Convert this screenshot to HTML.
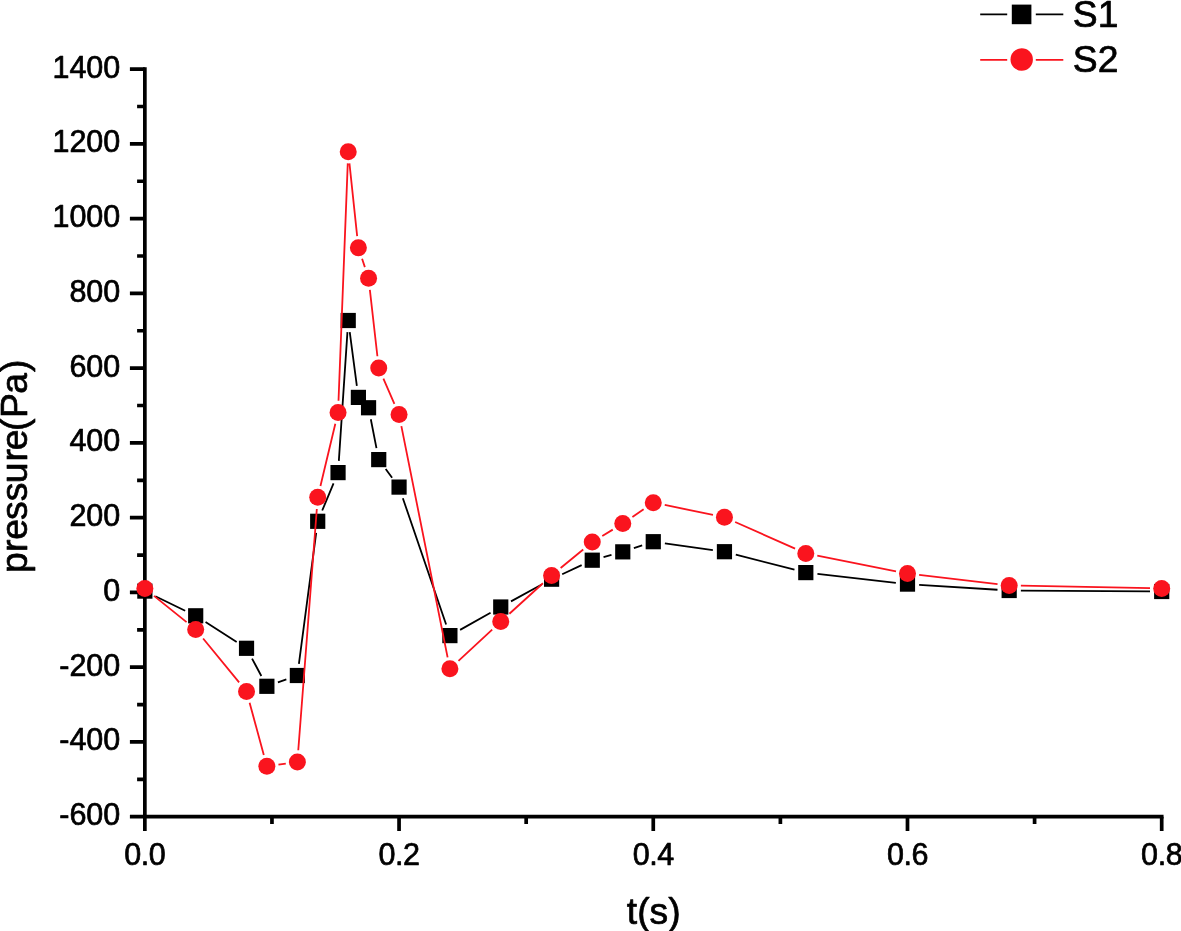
<!DOCTYPE html>
<html><head><meta charset="utf-8"><title>pressure vs t</title>
<style>
html,body{margin:0;padding:0;background:#fff;}
svg{display:block}
text{font-family:"Liberation Sans",sans-serif;fill:#000;stroke:#000;stroke-width:0.7px;stroke-linejoin:round}
.tk{font-size:30.5px}
.ti{font-size:37.3px}
</style></head><body>
<svg width="1181" height="931" viewBox="0 0 1181 931">
<rect width="1181" height="931" fill="#fff"/>
<g stroke="#000" stroke-width="3.7" stroke-linecap="butt" fill="none">
<path d="M144.85 67.25V831.10"/>
<path d="M129.90 816.70H1163.55"/>
<path d="M137.1 779.32H144.85M129.9 741.94H144.85M137.1 704.56H144.85M129.9 667.18H144.85M137.1 629.80H144.85M129.9 592.42H144.85M137.1 555.04H144.85M129.9 517.66H144.85M137.1 480.28H144.85M129.9 442.90H144.85M137.1 405.52H144.85M129.9 368.14H144.85M137.1 330.76H144.85M129.9 293.38H144.85M137.1 256.00H144.85M129.9 218.62H144.85M137.1 181.24H144.85M129.9 143.86H144.85M137.1 106.48H144.85M129.9 69.10H144.85M271.96 816.70V823.9M399.06 816.70V831.1M526.17 816.70V823.9M653.27 816.70V831.1M780.38 816.70V823.9M907.49 816.70V831.1M1034.59 816.70V823.9M1161.70 816.70V831.1"/>
</g>
<text class="tk" x="120.3" y="825.20" text-anchor="end">-600</text>
<text class="tk" x="120.3" y="750.44" text-anchor="end">-400</text>
<text class="tk" x="120.3" y="675.68" text-anchor="end">-200</text>
<text class="tk" x="120.3" y="600.92" text-anchor="end">0</text>
<text class="tk" x="120.3" y="526.16" text-anchor="end">200</text>
<text class="tk" x="120.3" y="451.40" text-anchor="end">400</text>
<text class="tk" x="120.3" y="376.64" text-anchor="end">600</text>
<text class="tk" x="120.3" y="301.88" text-anchor="end">800</text>
<text class="tk" x="120.3" y="227.12" text-anchor="end">1000</text>
<text class="tk" x="120.3" y="152.36" text-anchor="end">1200</text>
<text class="tk" x="120.3" y="77.60" text-anchor="end">1400</text>
<text class="tk" x="144.85" y="865.0" text-anchor="middle" style="letter-spacing:-0.4px">0.0</text>
<text class="tk" x="399.06" y="865.0" text-anchor="middle" style="letter-spacing:-0.4px">0.2</text>
<text class="tk" x="653.27" y="865.0" text-anchor="middle" style="letter-spacing:-0.4px">0.4</text>
<text class="tk" x="907.49" y="865.0" text-anchor="middle" style="letter-spacing:-0.4px">0.6</text>
<text class="tk" x="1161.70" y="865.0" text-anchor="middle" style="letter-spacing:-0.4px">0.8</text>
<text class="ti" x="653.7" y="923.7" text-anchor="middle">t(s)</text>
<text class="ti" transform="translate(27.3 465.9) rotate(-90)" text-anchor="middle" dx="-0.5 0.5 0 -0.9 0.2 -0.4 1.1 -1 -1.2 0.7 -0.6 1.2" style="letter-spacing:-0.15px">pressure(Pa)</text>
<path d="M155.37 596.21L185.17 610.69M205.55 622.10L236.68 642.00M252.06 658.62L261.35 675.98M277.90 682.40L286.35 679.40M298.91 663.90L316.18 532.90M322.22 510.50L333.54 483.40M338.83 460.93L347.44 332.17M349.75 332.10L356.85 385.80M370.81 419.23L376.47 448.12M385.68 469.01L392.11 477.69M402.85 498.17L446.12 624.53M460.10 629.86L490.55 612.74M511.01 601.39L541.32 584.81M562.19 574.25L581.66 565.15M603.55 557.11L611.48 554.94M633.87 548.16L642.17 545.39M664.86 543.33L712.87 550.07M735.79 554.61L794.47 569.69M817.43 573.91L895.86 582.79M919.16 584.83L997.50 589.77M1020.87 590.58L1150.00 591.42" stroke="#000" stroke-width="1.8" fill="none"/>
<rect x="137.25" y="583.50" width="15.2" height="15.2" fill="#000"/>
<rect x="188.09" y="608.20" width="15.2" height="15.2" fill="#000"/>
<rect x="238.93" y="640.70" width="15.2" height="15.2" fill="#000"/>
<rect x="259.27" y="678.70" width="15.2" height="15.2" fill="#000"/>
<rect x="289.78" y="667.90" width="15.2" height="15.2" fill="#000"/>
<rect x="310.11" y="513.70" width="15.2" height="15.2" fill="#000"/>
<rect x="330.45" y="465.00" width="15.2" height="15.2" fill="#000"/>
<rect x="340.62" y="312.90" width="15.2" height="15.2" fill="#000"/>
<rect x="350.79" y="389.80" width="15.2" height="15.2" fill="#000"/>
<rect x="360.96" y="400.15" width="15.2" height="15.2" fill="#000"/>
<rect x="371.13" y="452.00" width="15.2" height="15.2" fill="#000"/>
<rect x="391.46" y="479.50" width="15.2" height="15.2" fill="#000"/>
<rect x="442.30" y="628.00" width="15.2" height="15.2" fill="#000"/>
<rect x="493.15" y="599.40" width="15.2" height="15.2" fill="#000"/>
<rect x="543.99" y="571.60" width="15.2" height="15.2" fill="#000"/>
<rect x="584.66" y="552.60" width="15.2" height="15.2" fill="#000"/>
<rect x="615.17" y="544.25" width="15.2" height="15.2" fill="#000"/>
<rect x="645.67" y="534.10" width="15.2" height="15.2" fill="#000"/>
<rect x="716.85" y="544.10" width="15.2" height="15.2" fill="#000"/>
<rect x="798.20" y="565.00" width="15.2" height="15.2" fill="#000"/>
<rect x="899.89" y="576.50" width="15.2" height="15.2" fill="#000"/>
<rect x="1001.57" y="582.90" width="15.2" height="15.2" fill="#000"/>
<rect x="1154.10" y="583.90" width="15.2" height="15.2" fill="#000"/>
<path d="M153.96 595.84L186.58 622.11M203.12 638.49L239.11 682.36M249.60 702.69L263.81 755.01M278.45 764.63L285.80 763.57M298.27 750.23L316.82 508.97M320.44 485.92L335.33 423.78M338.51 400.71L347.76 163.39M349.45 163.33L357.16 236.07M362.09 258.80L364.86 267.10M369.87 289.83L377.41 356.27M383.40 378.63L394.39 403.87M401.36 426.07L447.61 657.33M458.48 660.84L492.17 629.56M509.41 613.73L542.93 583.27M560.63 567.97L583.22 549.43M602.28 535.96L612.75 529.64M632.41 516.98L643.63 509.27M664.74 504.99L712.99 514.86M735.14 521.96L795.11 548.64M817.28 555.68L896.01 571.32M919.11 574.96L997.55 584.14M1020.87 585.72L1150.00 588.18" stroke="#fa141e" stroke-width="1.8" fill="none"/>
<circle cx="144.85" cy="588.50" r="8.5" fill="#fa141e"/>
<circle cx="195.69" cy="629.45" r="8.5" fill="#fa141e"/>
<circle cx="246.53" cy="691.40" r="8.5" fill="#fa141e"/>
<circle cx="266.87" cy="766.30" r="8.5" fill="#fa141e"/>
<circle cx="297.38" cy="761.90" r="8.5" fill="#fa141e"/>
<circle cx="317.71" cy="497.30" r="8.5" fill="#fa141e"/>
<circle cx="338.05" cy="412.40" r="8.5" fill="#fa141e"/>
<circle cx="348.22" cy="151.70" r="8.5" fill="#fa141e"/>
<circle cx="358.39" cy="247.70" r="8.5" fill="#fa141e"/>
<circle cx="368.56" cy="278.20" r="8.5" fill="#fa141e"/>
<circle cx="378.73" cy="367.90" r="8.5" fill="#fa141e"/>
<circle cx="399.06" cy="414.60" r="8.5" fill="#fa141e"/>
<circle cx="449.90" cy="668.80" r="8.5" fill="#fa141e"/>
<circle cx="500.75" cy="621.60" r="8.5" fill="#fa141e"/>
<circle cx="551.59" cy="575.40" r="8.5" fill="#fa141e"/>
<circle cx="592.26" cy="542.00" r="8.5" fill="#fa141e"/>
<circle cx="622.77" cy="523.60" r="8.5" fill="#fa141e"/>
<circle cx="653.27" cy="502.65" r="8.5" fill="#fa141e"/>
<circle cx="724.45" cy="517.20" r="8.5" fill="#fa141e"/>
<circle cx="805.80" cy="553.40" r="8.5" fill="#fa141e"/>
<circle cx="907.49" cy="573.60" r="8.5" fill="#fa141e"/>
<circle cx="1009.17" cy="585.50" r="8.5" fill="#fa141e"/>
<circle cx="1161.70" cy="588.40" r="8.5" fill="#fa141e"/>
<path d="M980.2 14.4H1007.2M1035.8 14.4H1063.3" stroke="#000" stroke-width="1.8"/>
<rect x="1011.8" y="4.6" width="19.6" height="19.6" fill="#000"/>
<path d="M980.2 59.8H1007.2M1035.8 59.8H1063.3" stroke="#fa141e" stroke-width="1.8"/>
<circle cx="1021.7" cy="59.5" r="11.2" fill="#fa141e"/>
<text class="ti" x="1072.8" y="26.8">S1</text>
<text class="ti" x="1072.8" y="71.8">S2</text>
</svg></body></html>
